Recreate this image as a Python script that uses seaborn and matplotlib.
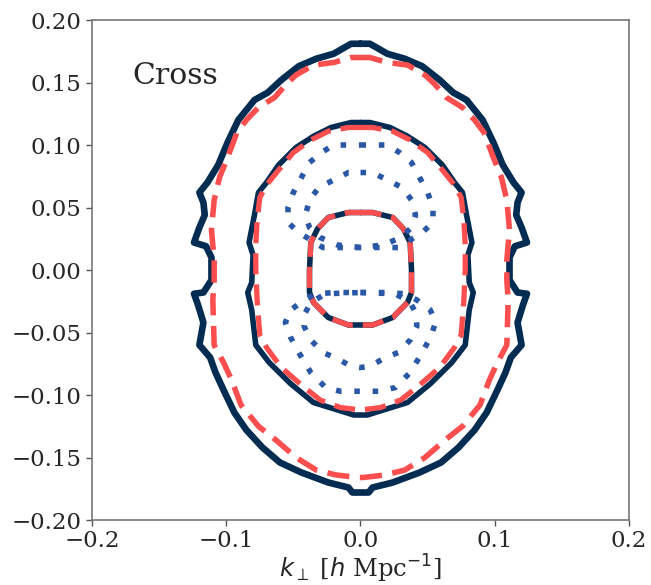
import numpy as np
import pandas as pd
import matplotlib
matplotlib.use("Agg")
import matplotlib.pyplot as plt
import seaborn as sns

# Contour paths in (k_perp, k_par) [h/Mpc], right half (k_perp >= 0),
# traced clockwise from the top of the k_par axis to the bottom.
outer_solid_kperp = [0.000, 0.007, 0.020, 0.033, 0.046, 0.059, 0.069, 0.079, 0.091, 0.099,
                     0.106, 0.114, 0.120, 0.117, 0.116, 0.120, 0.124, 0.115, 0.111, 0.111,
                     0.117, 0.124, 0.121, 0.117, 0.120, 0.112, 0.108, 0.102, 0.094, 0.085,
                     0.073, 0.060, 0.044, 0.024, 0.009, 0.006, 0.000]
outer_solid_kpar = [0.181, 0.181, 0.173, 0.169, 0.163, 0.152, 0.142, 0.136, 0.120, 0.102,
                    0.084, 0.070, 0.062, 0.054, 0.044, 0.034, 0.022, 0.019, 0.010, -0.008,
                    -0.018, -0.019, -0.028, -0.042, -0.060, -0.070, -0.082, -0.096, -0.114, -0.128,
                    -0.142, -0.154, -0.162, -0.170, -0.174, -0.178, -0.178]

outer_dashed_kperp = [0.000, 0.007, 0.020, 0.035, 0.048, 0.055, 0.064, 0.076, 0.085, 0.092,
                      0.099, 0.105, 0.109, 0.111, 0.109, 0.109, 0.110, 0.109, 0.102, 0.096,
                      0.089, 0.076, 0.063, 0.048, 0.033, 0.018, 0.002, 0.000]
outer_dashed_kpar = [0.170, 0.170, 0.166, 0.164, 0.156, 0.149, 0.138, 0.130, 0.120, 0.110,
                     0.090, 0.074, 0.056, 0.032, 0.008, -0.008, -0.024, -0.060, -0.074, -0.088,
                     -0.108, -0.125, -0.136, -0.150, -0.160, -0.164, -0.166, -0.166]

mid_solid_kperp = [0.000, 0.007, 0.022, 0.035, 0.048, 0.061, 0.070, 0.076, 0.079, 0.083,
                   0.080, 0.081, 0.084, 0.081, 0.078, 0.068, 0.052, 0.035, 0.017, 0.005, 0.000]
mid_solid_kpar = [0.118, 0.118, 0.114, 0.107, 0.098, 0.084, 0.070, 0.062, 0.044, 0.022,
                  0.012, -0.010, -0.018, -0.032, -0.060, -0.074, -0.091, -0.106, -0.112, -0.116, -0.116]

mid_dashed_kperp = [0.000, 0.009, 0.024, 0.037, 0.050, 0.061, 0.070, 0.075, 0.077, 0.078,
                    0.078, 0.077, 0.075, 0.070, 0.059, 0.044, 0.030, 0.015, 0.000]
mid_dashed_kpar = [0.114, 0.114, 0.111, 0.104, 0.094, 0.080, 0.068, 0.058, 0.040, 0.020,
                   0.000, -0.024, -0.052, -0.062, -0.078, -0.092, -0.104, -0.110, -0.112]

inner_kperp = [0.000, 0.009, 0.024, 0.032, 0.037, 0.038, 0.038, 0.035, 0.024, 0.009, 0.000]
inner_kpar = [0.046, 0.046, 0.042, 0.033, 0.022, 0.000, -0.018, -0.026, -0.038, -0.044, -0.044]

top_lobe_outer_kperp = [0.000, 0.020, 0.029, 0.038, 0.044, 0.050, 0.054, 0.054, 0.046, 0.037,
                        0.028, 0.014, 0.000]
top_lobe_outer_kpar = [0.100, 0.100, 0.094, 0.086, 0.074, 0.062, 0.050, 0.038, 0.030, 0.024,
                       0.018, 0.018, 0.018]

top_lobe_inner_kperp = [0.000, 0.009, 0.020, 0.031, 0.038, 0.041, 0.038, 0.030, 0.017, 0.000]
top_lobe_inner_kpar = [0.078, 0.078, 0.072, 0.066, 0.056, 0.044, 0.034, 0.026, 0.020, 0.018]

bot_lobe_outer_kperp = [0.000, 0.018, 0.033, 0.042, 0.052, 0.056, 0.052, 0.046, 0.037, 0.026,
                        0.015, 0.000]
bot_lobe_outer_kpar = [-0.018, -0.018, -0.019, -0.024, -0.032, -0.042, -0.054, -0.066, -0.082,
                       -0.094, -0.097, -0.097]

bot_lobe_inner_kperp = [0.000, 0.026, 0.037, 0.041, 0.042, 0.037, 0.028, 0.017, 0.007, 0.000]
bot_lobe_inner_kpar = [-0.018, -0.019, -0.026, -0.034, -0.045, -0.056, -0.066, -0.071, -0.077, -0.078]

x_ticks = [-0.2, -0.1, 0.0, 0.1, 0.2]
y_ticks = [-0.20, -0.15, -0.10, -0.05, 0.00, 0.05, 0.10, 0.15, 0.20]

NAVY = "#022c52"
RED = "#fb4f4f"
BLUE = "#2a58a6"


def closed_path(kperp, kpar):
    """Mirror a right-half path about k_perp = 0 and close it."""
    kperp = np.asarray(kperp, float)
    kpar = np.asarray(kpar, float)
    x = np.concatenate([kperp, -kperp[::-1][1:]])
    y = np.concatenate([kpar, kpar[::-1][1:]])
    return pd.DataFrame({"kperp": x, "kpar": y, "order": np.arange(len(x))})


def tick_text(v, fmt):
    return fmt.format(v).replace("-", "\u2212")


sns.set_theme(style="ticks")
plt.rcParams["font.family"] = ["DejaVu Serif"]
plt.rcParams["mathtext.fontset"] = "dejavusans"

fig = plt.figure(figsize=(6.51, 5.85), dpi=100)
ax = fig.add_axes([0.1413, 0.1111, 0.8249, 0.8547])

DASH = (0, (4.0, 1.9))
DOT = (0, (1, 2.3))
layers = [
    (outer_solid_kperp, outer_solid_kpar, NAVY, "-", 4.8),
    (mid_solid_kperp, mid_solid_kpar, NAVY, "-", 4.0),
    (inner_kperp, inner_kpar, NAVY, "-", 4.0),
    (outer_dashed_kperp, outer_dashed_kpar, RED, DASH, 4.0),
    (mid_dashed_kperp, mid_dashed_kpar, RED, DASH, 3.8),
    (inner_kperp, inner_kpar, RED, DASH, 3.8),
    (top_lobe_outer_kperp, top_lobe_outer_kpar, BLUE, DOT, 4.0),
    (top_lobe_inner_kperp, top_lobe_inner_kpar, BLUE, DOT, 4.0),
    (bot_lobe_outer_kperp, bot_lobe_outer_kpar, BLUE, DOT, 4.0),
    (bot_lobe_inner_kperp, bot_lobe_inner_kpar, BLUE, DOT, 4.0),
]

for kp, kl, color, ls, lw in layers:
    df = closed_path(kp, kl)
    sns.lineplot(data=df, x="kperp", y="kpar", sort=False, estimator=None,
                 color=color, linestyle=ls, linewidth=lw, ax=ax)

ax.set_xlim(-0.2, 0.2)
ax.set_ylim(-0.2, 0.2)
ax.set_xticks(x_ticks)
ax.set_yticks(y_ticks)
ax.set_xticklabels([tick_text(v, "{:.1f}") for v in x_ticks])
ax.set_yticklabels([tick_text(v, "{:.2f}") for v in y_ticks])
ax.tick_params(axis="both", labelsize=16.5, length=4.5, width=1.0,
               color="#555555", direction="out", pad=3)
for side in ["left", "right", "top", "bottom"]:
    ax.spines[side].set_visible(True)
    ax.spines[side].set_color("#777777")
    ax.spines[side].set_linewidth(1.2)

ax.set_xlabel(r"$k_{\perp}$ [$h$ Mpc$^{-1}$]", fontsize=17.5, labelpad=0)
ax.set_ylabel("")
ax.text(0.076, 0.872, "Cross", transform=ax.transAxes, fontsize=21.5,
        ha="left", va="baseline")

fig.savefig("out.png", dpi=100)
